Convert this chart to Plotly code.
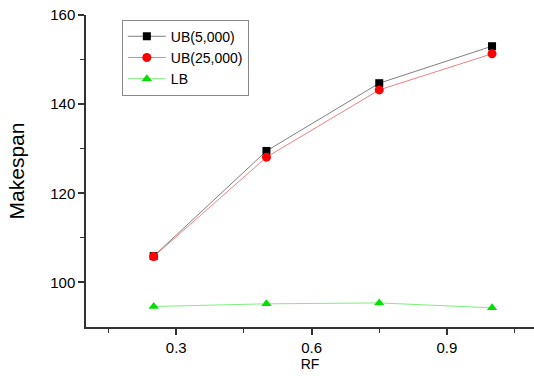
import plotly.graph_objects as go

rf = [0.25, 0.5, 0.75, 1.0]
ub_5000 = [105.9, 129.5, 144.7, 153.0]
ub_25000 = [105.8, 128.1, 143.2, 151.3]
lb = [94.6, 95.2, 95.4, 94.3]

fig = go.Figure()
fig.add_trace(go.Scatter(x=rf, y=ub_5000, mode="lines+markers", name="UB(5,000)",
                         line=dict(color="#7f7f7f", width=1),
                         marker=dict(symbol="square", size=8, color="black")))
fig.add_trace(go.Scatter(x=rf, y=ub_25000, mode="lines+markers", name="UB(25,000)",
                         line=dict(color="#f08080", width=1),
                         marker=dict(symbol="circle", size=9, color="red")))
fig.add_trace(go.Scatter(x=rf, y=lb, mode="lines+markers", name="LB",
                         line=dict(color="#80ee80", width=1),
                         marker=dict(symbol="triangle-up", size=9, color="#00e000")))

fig.update_layout(
    width=534, height=376,
    margin=dict(l=86, r=0, t=15, b=49),
    paper_bgcolor="white", plot_bgcolor="white",
    font=dict(family="Liberation Sans, Arial, sans-serif", color="black", size=14),
    showlegend=True,
    legend=dict(x=0.08, y=0.985, xanchor="left", yanchor="top",
                bordercolor="#888888", borderwidth=1, bgcolor="white",
                font=dict(size=14), tracegroupgap=0, itemwidth=38),
    xaxis=dict(range=[0.1, 1.093], tickvals=[0.3, 0.6, 0.9], ticktext=["0.3", "0.6", "0.9"],
               automargin=False,
               showgrid=False, zeroline=False, showline=True, linecolor="#333333", linewidth=1.5,
               ticks="outside", ticklen=6, tickwidth=1.5, tickcolor="#333333",
               minor=dict(tickvals=[0.15, 0.45, 0.75, 1.05], ticks="outside", ticklen=4,
                          tickwidth=1.2, tickcolor="#333333"),
               title=dict(text="RF", font=dict(size=14), standoff=4),
               tickfont=dict(size=15)),
    yaxis=dict(range=[90, 160], tickvals=[100, 120, 140, 160],
               automargin=False,
               showgrid=False, zeroline=False, showline=True, linecolor="#333333", linewidth=1.5,
               ticks="outside", ticklen=6, tickwidth=1.5, tickcolor="#333333",
               minor=dict(tickvals=[110, 130, 150], ticks="outside", ticklen=4,
                          tickwidth=1.2, tickcolor="#333333"),
               title=dict(text="Makespan", font=dict(size=21), standoff=20),
               tickfont=dict(size=15)),
)

fig.write_html("out.html", config={"displayModeBar": False},
               post_script="document.body.style.margin='0';")
